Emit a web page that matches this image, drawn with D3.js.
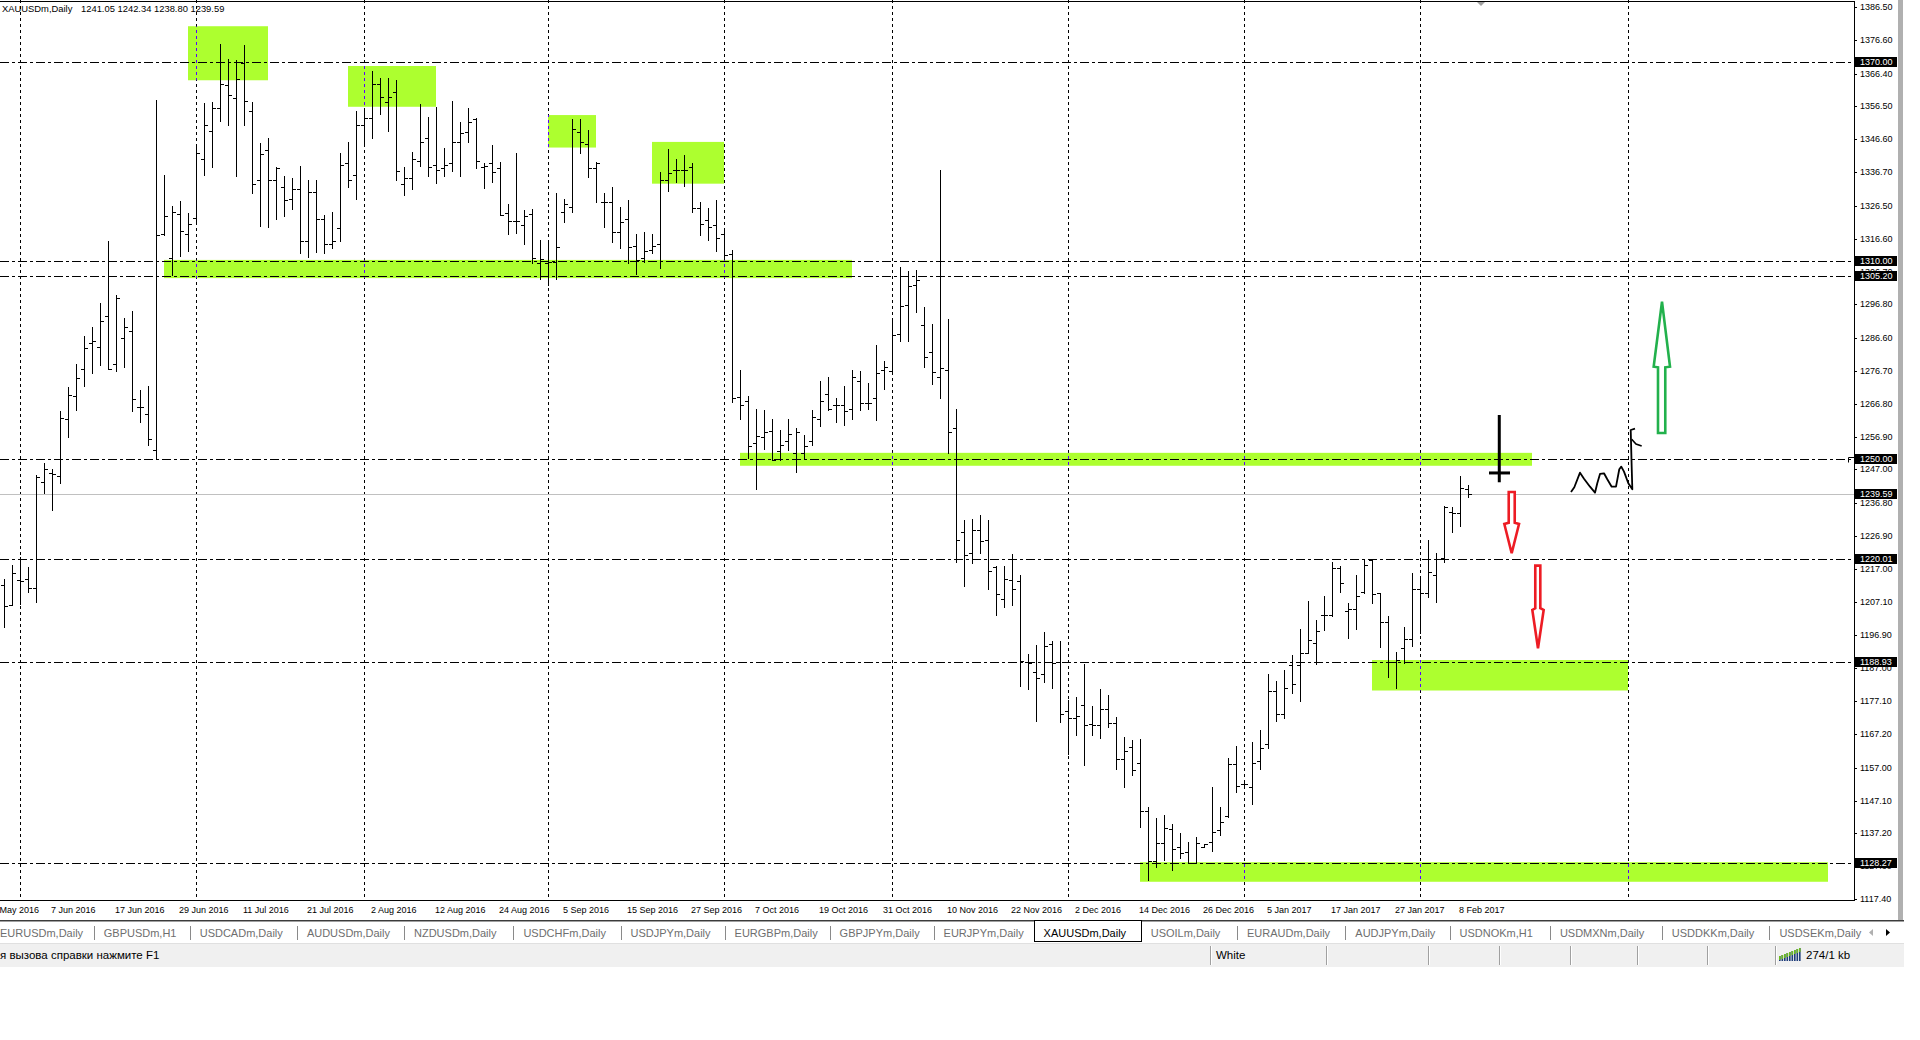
<!DOCTYPE html>
<html><head><meta charset="utf-8">
<script src="https://cdn.jsdelivr.net/npm/d3@7"></script>
<style>
html,body{margin:0;padding:0;background:#fff;overflow:hidden}
svg{display:block}
text{font-family:"Liberation Sans",Arial,sans-serif}
</style></head><body>
<svg id="c" width="1920" height="1040"></svg>
<script>
// ---------------- DATA ----------------
const symbolName = "XAUUSDm,Daily";
const lastQuote = ["1241.05", "1242.34", "1238.80", "1239.59"];

const open = [
1212,1206.0,1213.5,1213.8,1211.3,1243.3,1246,1245,1262.2,1269.2,
1277.2,1285,1283.9,1293.2,1278.8,1286.7,1288.9,1265.9,1263.6,1252.9,
1318,1310.8,1324,1318,1322.7,1340.6,1349,1356,1363.1,1359,
1369.5,1355.1,1334.4,1343.3,1334.4,1332.3,1328.5,1331.7,1316,1330.7,
1322.4,1315,1319.7,1339.4,1335.7,1351,1352.9,1363.4,1357.8,1360.9,
1333,1335,1340.1,1346.9,1338.8,1337.8,1339.5,1345.7,1348.7,1352.7,
1338.3,1339.3,1337.8,1324.5,1322,1320.7,1324.0,1309.2,1309.2,1309.5,
1324.6,1326.1,1348.7,1345.1,1337.8,1327.8,1327.6,1318.5,1322.5,1314.5,
1310.9,1313.2,1314.9,1334.3,1337.3,1337.3,1338.3,1326,1322.2,1320.7,
1317.9,1312.0,1268.9,1267.5,1254.9,1256.8,1258.5,1252.5,1255.5,1251.9,
1251.9,1255.5,1262.3,1269.7,1266.3,1266.3,1265.1,1273.6,1266.9,1268.6,
1277,1276.7,1288.0,1296.7,1302.6,1290.6,1282.3,1274.9,1277,1259.4,
1228.0,1221.8,1228.7,1225.7,1217.6,1207.8,1213.7,1213.4,1189,1186,
1185.2,1194.3,1189.0,1174.2,1172.1,1176,1170.2,1169.8,1174.6,1170.6,
1159.5,1163.4,1158.4,1143.8,1129.0,1134.4,1138.4,1133.0,1131.7,1128.4,
1133.2,1134.7,1138.2,1142.4,1158.1,1152.0,1151.1,1159.1,1164.2,1180.3,
1173.2,1188.0,1188,1191.7,1194.6,1203,1203.1,1217.2,1204.4,1204.8,
1210.1,1219.7,1209.8,1201.1,1189,1193,1195.8,1210.8,1209.8,1215.2,
1220.2,1234.3,1233.8,1241.05];
const high = [
1213.8,1218.3,1220.5,1217.7,1245.2,1248.9,1247.0,1264.6,1272.0,1278.7,
1287.3,1290.1,1297.1,1315.9,1299.7,1292.6,1294.7,1271.0,1272.2,1358.4,
1335.7,1326.4,1328.0,1324.5,1344.9,1357.6,1357.8,1375.3,1370.8,1370.5,
1375.1,1357.8,1345.5,1347.1,1338.1,1335.4,1335.0,1338.5,1334.2,1334.2,
1323.6,1324.6,1342.4,1345.8,1355.1,1356,1367.1,1365.2,1365.2,1364.6,
1338.1,1342.8,1357.2,1353.4,1356.4,1343.9,1358.1,1351.7,1355.9,1352.9,
1339.3,1344.9,1339.8,1327.1,1342.4,1325.3,1325.5,1316.2,1315.7,1330.3,
1328.5,1352.7,1352.7,1349.4,1339.6,1330.3,1332.1,1326.3,1328.3,1318.0,
1318.5,1318.0,1336.8,1343.6,1340.5,1342.0,1339.3,1327.6,1325.8,1328.3,
1319.6,1313.1,1277.1,1269.2,1265.3,1264.9,1262.1,1258.8,1262.3,1259.5,
1257.4,1264.9,1273.6,1274.9,1268.4,1272.1,1277.1,1276.7,1273.2,1284.6,
1279.7,1292.4,1308.1,1306.8,1307.2,1296.1,1290.9,1337.4,1292.4,1265.3,
1231.7,1232.0,1233.3,1231.7,1217.8,1217.8,1221.5,1215.2,1191.4,1194.0,
1198.0,1195.3,1195.3,1177.3,1178.3,1188.2,1175.7,1180.7,1178.9,1172.4,
1166.2,1165.4,1165.6,1145.1,1141.7,1142.7,1140.0,1137.4,1134.7,1136.2,
1134.0,1151.3,1145.1,1159.8,1163.6,1152.4,1164.9,1168.4,1185.3,1183.3,
1186.5,1191.0,1198.8,1207.4,1201.6,1208.8,1219.0,1217.9,1206.8,1215.2,
1219.7,1220.0,1209.8,1202.8,1192.0,1199.6,1215.6,1214.4,1225.7,1221.7,
1236.0,1235.6,1245.0,1242.34];
const low = [
1199.6,1206.0,1206.4,1210.1,1207.0,1239.9,1234.9,1242.9,1256.9,1264.9,
1272.3,1276.2,1278.4,1277.2,1276.6,1278.0,1264.5,1261.2,1254.4,1250.1,
1317.6,1305.5,1311.3,1312.9,1320.9,1335.9,1338.1,1352,1350.8,1335.4,
1350.8,1330.4,1320.3,1320.0,1322.4,1323.4,1325.6,1312.3,1311.0,1312.5,
1312.3,1313.7,1316.0,1332.3,1328.5,1345,1347.1,1354.1,1349.0,1334.4,
1329.9,1331.7,1338.5,1335.6,1333.3,1335.6,1337.1,1335.6,1345.9,1337.8,
1331.8,1333.8,1323.8,1317.9,1318.2,1314.9,1309.2,1304.5,1302.6,1304.5,
1321.7,1324.8,1342.6,1335.3,1327.8,1320.2,1315.7,1313.7,1309.2,1306.1,
1309.7,1312.2,1307.7,1331.1,1333.8,1332.6,1324.6,1317.7,1316.2,1313.0,
1310.4,1267.3,1262.1,1250.3,1241.1,1253.2,1249.7,1249.9,1252.9,1246.1,
1250.3,1254.5,1260.1,1264.9,1261.2,1260.5,1262.1,1264.9,1265.1,1261.8,
1271.2,1276.2,1285.6,1285.6,1294.5,1278.0,1272.8,1268.4,1251.9,1219.2,
1211.7,1218.9,1221.8,1211.0,1203.2,1205.6,1206.1,1181.6,1180.7,1171.2,
1183.0,1181.2,1170.7,1161.1,1166.8,1157.7,1166.8,1165.9,1169.4,1156.5,
1151.3,1154.8,1139.2,1123.0,1127.0,1129.2,1126.0,1129.7,1128.2,1128.4,
1133.0,1132.0,1136.7,1142.0,1149.8,1151.6,1146.1,1156.5,1162.9,1171.2,
1171.9,1179.4,1177.2,1191.5,1188.2,1198.6,1202.8,1210.1,1196.0,1198.8,
1209.8,1206.8,1193.5,1184.5,1181.0,1188.5,1193.8,1197.6,1208.6,1207.1,
1219.2,1228.0,1229.9,1238.80];
const close = [
1205.8,1215.6,1213.2,1211.3,1244.6,1247.0,1245.5,1262.4,1269.4,1274.7,
1283.6,1285.8,1291.7,1277.4,1298.7,1290.1,1268.2,1265.9,1256.1,1317.6,
1323.3,1324.6,1318.8,1321.1,1342.4,1350.8,1356.0,1363.4,1360.0,1364.8,
1358,1333.1,1342.1,1334.4,1338.0,1328.3,1331.7,1316.0,1330.7,1322.4,
1315.0,1316.0,1338.7,1334.4,1350.8,1353,1363.4,1359.3,1359.3,1337.1,
1334.8,1340.6,1345.9,1338.3,1337.3,1338.8,1345.7,1348.4,1351.7,1340.0,
1338.6,1336.8,1323.8,1322.0,1322.0,1323.4,1310.7,1310.4,1309.7,1314.0,
1327.1,1349.7,1345.9,1337.8,1339.5,1327.6,1318.5,1321.7,1314.2,1310.2,
1313.0,1314.5,1334.3,1336.3,1337.3,1337.3,1325.8,1321.0,1320.2,1316.7,
1311.8,1268.6,1266.3,1254.2,1257.1,1258.4,1249.9,1254.5,1257.8,1258.4,
1254.2,1262.7,1267.6,1265.3,1266.3,1264.7,1274.9,1266.9,1266.9,1276.2,
1278.0,1287.6,1296.3,1302.4,1304.2,1281.0,1276.5,1277.5,1258.4,1225.7,
1221.2,1228.7,1225.4,1216.3,1209.5,1213.9,1211.0,1189.1,1188.5,1184.2,
1193.8,1188.5,1173.1,1172.1,1172.5,1169.8,1169.8,1174.6,1170.6,1159.5,
1162.0,1156.3,1143.8,1129.0,1134.2,1138.7,1132.4,1131.2,1128.4,1134.2,
1134.0,1137.7,1140.5,1158.0,1151.5,1152.1,1158.4,1162.9,1180.2,1173.2,
1181.0,1182.3,1191.7,1195.6,1198.4,1203.1,1217.2,1212.8,1204.8,1208.8,
1218.2,1209.4,1201.1,1189.0,1189.5,1195.8,1210.8,1209.8,1216.2,1219.9,
1235.6,1233.8,1241.3,1239.59];

const priceTicks = ["1386.50","1376.60","1366.40","1356.50","1346.60","1336.70","1326.50","1316.60","1306.70","1296.80","1286.60","1276.70","1266.80","1256.90","1247.00","1236.80","1226.90","1217.00","1207.10","1196.90","1187.00","1177.10","1167.20","1157.00","1147.10","1137.20","1127.30","1117.40"];
const dateTicks = ["26 May 2016","7 Jun 2016","17 Jun 2016","29 Jun 2016","11 Jul 2016","21 Jul 2016","2 Aug 2016","12 Aug 2016","24 Aug 2016","5 Sep 2016","15 Sep 2016","27 Sep 2016","7 Oct 2016","19 Oct 2016","31 Oct 2016","10 Nov 2016","22 Nov 2016","2 Dec 2016","14 Dec 2016","26 Dec 2016","5 Jan 2017","17 Jan 2017","27 Jan 2017","8 Feb 2017"];

const levelPrices = [1370.00, 1310.00, 1305.20, 1250.00, 1220.01, 1188.93, 1128.27];
const bidPrice = 1239.59;

// zones: [first bar, last bar, low price, high price]
const zones = [
 [23, 33, 1364.4, 1380.7],
 [43, 54, 1356.4, 1368.7],
 [68, 74, 1344.1, 1353.9],
 [81, 90, 1333.2, 1345.8],
 [20, 106, 1304.7, 1310.2],
 [92, 191, 1248.1, 1252.0],
 [171, 203, 1180.3, 1189.5],
 [142, 228, 1122.6, 1128.5]
];
// hand-drawn annotations, in [bar, price]
const redArrowA = [[188.09,1240.19],[188.84,1240.19],[188.84,1230.93],[189.38,1230.54],[188.46,1221.70],[187.54,1230.54],[188.09,1230.93]];
const redArrowB = [[191.41,1217.96],[192.04,1217.96],[192.04,1205.11],[192.46,1204.60],[191.75,1193.04],[191.04,1204.60],[191.41,1205.11]];
const greenArrow = [[206.75,1257.99],[207.66,1257.99],[207.66,1277.81],[208.25,1277.99],[207.25,1297.60],[206.21,1277.99],[206.75,1277.81]];
const crossV = [[186.91,1263.42],[186.91,1243.12]];
const crossH = [[185.625,1245.93],[188.25,1245.93]];
const squiggle = [[195.875,1240.19],[196.29,1241.61],[197.0,1246.01],[197.5,1244.2],[198.25,1241.79],[198.875,1239.98],[199.16,1242.82],[199.5,1245.62],[200.0,1245.83],[200.41,1244.02],[200.96,1241.79],[201.5,1241.79],[201.91,1247.04],[202.16,1247.83],[202.5,1246.32],[203.04,1242.82],[203.54,1241.01],[203.46,1247.83],[203.34,1258.89],[203.875,1259.29]];
const squiggleFlag = [[203.46,1256.09],[204.0,1254.67],[204.71,1254.07]];

const tabNames = ["EURUSDm,Daily","GBPUSDm,H1","USDCADm,Daily","AUDUSDm,Daily","NZDUSDm,Daily","USDCHFm,Daily","USDJPYm,Daily","EURGBPm,Daily","GBPJPYm,Daily","EURJPYm,Daily","XAUUSDm,Daily","USOILm,Daily","EURAUDm,Daily","AUDJPYm,Daily","USDNOKm,H1","USDMXNm,Daily","USDDKKm,Daily","USDSEKm,Daily"];
const statusText = "я вызова справки нажмите F1";
const statusStyle = "White";
const statusTraffic = "274/1 kb";

// ---------------- LAYOUT ----------------
const svg = d3.select("#c");
const plotW = 1854, plotB = 900;
const x = d3.scaleLinear().domain([-0.5, 231.25]).range([0, plotW]);
const y = d3.scaleLinear().domain([1117.4, 1386.5]).range([899, 7]);
const cr = v => Math.round(v) + 0.5;

// dates: trading weekdays up to last bar, calendar days in the future area
const dates = [];
{ let d = new Date(2016, 4, 26);
  for (let i = -2; i <= 235; i++) {
    dates.push(new Date(d));
    if (i < open.length - 1) { do { d.setDate(d.getDate() + 1); } while (d.getDay() === 0 || d.getDay() === 6); }
    else d.setDate(d.getDate() + 1);
  } }
const dateAt = i => dates[i + 2];
const fmt = d3.timeFormat("%-d %b %Y");

svg.append("rect").attr("width", 1920).attr("height", 1040).attr("fill", "#fff");

const defs = svg.append("defs");
defs.append("clipPath").attr("id", "plotclip").append("rect").attr("x", 0).attr("y", 0).attr("width", plotW).attr("height", plotB);
const plot = svg.append("g").attr("clip-path", "url(#plotclip)");

// zones
plot.append("g").selectAll("rect").data(zones).join("rect")
  .attr("x", d => x(d[0])).attr("width", d => x(d[1]) - x(d[0]))
  .attr("y", d => y(d[3])).attr("height", d => y(d[2]) - y(d[3]))
  .attr("fill", "#adff2f");

// vertical month grid
const gridIdx = d3.range(0, 232).filter(i => dateAt(i).getMonth() !== dateAt(i - 1).getMonth());
plot.append("g").selectAll("line").data(gridIdx).join("line")
  .attr("x1", d => cr(x(d))).attr("x2", d => cr(x(d))).attr("y1", 0).attr("y2", plotB)
  .attr("stroke", "#000").attr("stroke-dasharray", "3,3");
zones.forEach((z, k) => {
  defs.append("clipPath").attr("id", "zc" + k).append("rect")
    .attr("x", x(z[0])).attr("width", x(z[1]) - x(z[0])).attr("y", y(z[3])).attr("height", y(z[2]) - y(z[3]));
  plot.append("g").attr("clip-path", `url(#zc${k})`).selectAll("line").data(gridIdx).join("line")
    .attr("x1", d => cr(x(d))).attr("x2", d => cr(x(d))).attr("y1", 0).attr("y2", plotB)
    .attr("stroke", "#5a00ff").attr("stroke-dasharray", "3,3");
});

// bid line
plot.append("line").attr("x1", 0).attr("x2", plotW).attr("y1", cr(y(bidPrice))).attr("y2", cr(y(bidPrice)))
  .attr("stroke", "#c0c0c0");

// horizontal levels
plot.append("g").selectAll("line").data(levelPrices).join("line")
  .attr("x1", 0).attr("x2", plotW).attr("y1", d => cr(y(d))).attr("y2", d => cr(y(d)))
  .attr("stroke", "#000").attr("stroke-dasharray", "9,3,3,3");

// OHLC bars
const bars = plot.append("g").attr("stroke", "#000").attr("stroke-width", 1);
open.forEach((o, i) => {
  const bx = Math.round(x(i)) + 0.5;
  const yh = Math.round(y(high[i])), yl = Math.round(y(low[i]));
  bars.append("line").attr("x1", bx).attr("x2", bx).attr("y1", yh).attr("y2", yl + 1);
  bars.append("line").attr("x1", bx - 3.5).attr("x2", bx).attr("y1", cr(y(o))).attr("y2", cr(y(o)));
  bars.append("line").attr("x1", bx).attr("x2", bx + 3.5).attr("y1", cr(y(close[i]))).attr("y2", cr(y(close[i])));
});

// annotations
const ln = d3.line().x(d => x(d[0])).y(d => y(d[1]));
const ann = svg.append("g");
ann.append("path").attr("d", ln(redArrowA) + "Z").attr("fill", "#fff").attr("stroke", "#ed1c24").attr("stroke-width", 2.6).attr("stroke-linejoin", "miter");
ann.append("path").attr("d", ln(redArrowB) + "Z").attr("fill", "#fff").attr("stroke", "#ed1c24").attr("stroke-width", 2.6);
ann.append("path").attr("d", ln(greenArrow) + "Z").attr("fill", "#fff").attr("stroke", "#22b14c").attr("stroke-width", 2.6);
ann.append("path").attr("d", ln(crossV)).attr("stroke", "#000").attr("stroke-width", 3);
ann.append("path").attr("d", ln(crossH)).attr("stroke", "#000").attr("stroke-width", 3);
ann.append("path").attr("d", ln(squiggle)).attr("fill", "none").attr("stroke", "#000").attr("stroke-width", 1.8).attr("stroke-linejoin", "round");
ann.append("path").attr("d", ln(squiggleFlag)).attr("fill", "none").attr("stroke", "#000").attr("stroke-width", 1.6);

// frame
svg.append("line").attr("x1", 0).attr("x2", plotW + 1).attr("y1", 1.5).attr("y2", 1.5).attr("stroke", "#000");
svg.append("line").attr("x1", plotW + 0.5).attr("x2", plotW + 0.5).attr("y1", 1).attr("y2", plotB + 1).attr("stroke", "#000");
svg.append("line").attr("x1", 0).attr("x2", plotW + 1).attr("y1", plotB + 0.5).attr("y2", plotB + 0.5).attr("stroke", "#000");
// chart shift marker
svg.append("path").attr("d", "M1477,2L1485,2L1481,6Z").attr("fill", "#a0a0a0");
// small marker on 1250 level near the axis
svg.append("path").attr("d", `M${plotW - 5.5},${cr(y(1250)) + 3}V${cr(y(1250)) - 2}H${plotW}`).attr("fill", "none").attr("stroke", "#000");

// right price scale
const ax = svg.append("g").attr("font-size", 9);
priceTicks.forEach(t => {
  const v = +t, yy = y(v);
  ax.append("line").attr("x1", plotW + 1).attr("x2", plotW + 3).attr("y1", cr(yy)).attr("y2", cr(yy)).attr("stroke", "#000");
  ax.append("text").attr("x", 1860).attr("y", Math.round(yy) + 3.3).text(t).attr("fill", "#000");
});
[...levelPrices, bidPrice].forEach(v => {
  const yy = Math.round(y(v));
  ax.append("rect").attr("x", plotW + 1).attr("y", yy - 5).attr("width", 42).attr("height", 10).attr("fill", "#000");
  ax.append("text").attr("x", 1860).attr("y", yy + 3.3).text(v.toFixed(2)).attr("fill", "#fff");
});
// right gray strip
svg.append("rect").attr("x", 1898).attr("y", 0).attr("width", 5).attr("height", 921).attr("fill", "#b0b0b0");

// date axis
const dg = svg.append("g").attr("font-size", 9);
dateTicks.forEach(lbl => {
  let idx = -99;
  for (let i = -2; i < 232; i++) if (fmt(dateAt(i)) === lbl) { idx = i; break; }
  if (idx < -2) return;
  dg.append("text").attr("x", Math.round(x(idx)) - 1).attr("y", 913).text(lbl).attr("fill", "#000");
});

// title
svg.append("text").attr("x", 2).attr("y", 11.5).attr("font-size", 9.4).text(symbolName).attr("fill", "#000");
svg.append("text").attr("x", 81).attr("y", 11.5).attr("font-size", 9.4).text(lastQuote.join(" ")).attr("fill", "#000");

// tab bar
const tabEdges = [-10, 93.75, 189.7, 296.9, 404, 513.4, 620.5, 724.6, 829.6, 933.6, 1033.6, 1140.7, 1237, 1345.3, 1449.5, 1549.9, 1661.8, 1769.4];
const activeTab = tabNames.indexOf(symbolName);
svg.append("rect").attr("x", 0).attr("y", 921).attr("width", 1904).attr("height", 22).attr("fill", "#fff");
svg.append("rect").attr("x", 0).attr("y", 943).attr("width", 1904).attr("height", 24).attr("fill", "#f0f0f0");
svg.append("line").attr("x1", 0).attr("x2", 1904).attr("y1", 920.5).attr("y2", 920.5).attr("stroke", "#3c3c3c");
svg.append("line").attr("x1", 0).attr("x2", 1904).attr("y1", 921.5).attr("y2", 921.5).attr("stroke", "#a0a0a0");
const tb = svg.append("g").attr("font-size", 11);
tabNames.forEach((n, k) => {
  const ex = tabEdges[k];
  if (k === activeTab) {
    tb.append("rect").attr("x", Math.round(ex) + 0.5).attr("y", 920.5).attr("width", Math.round(tabEdges[k + 1] - ex)).attr("height", 21).attr("fill", "#fff").attr("stroke", "#000");
  } else if (k > 0 && k !== activeTab + 1) {
    tb.append("line").attr("x1", cr(ex)).attr("x2", cr(ex)).attr("y1", 926).attr("y2", 940).attr("stroke", "#8a8a8a");
  }
  tb.append("text").attr("x", ex + 10).attr("y", 936.5).text(n).attr("fill", k === activeTab ? "#000" : "#6e6e6e");
});
tb.append("path").attr("d", "M1873,929L1869,932.5L1873,936Z").attr("fill", "#b0b0b0");
tb.append("path").attr("d", "M1886,929L1890,932.5L1886,936Z").attr("fill", "#000");

// status bar
svg.append("line").attr("x1", 0).attr("x2", 1904).attr("y1", 943.5).attr("y2", 943.5).attr("stroke", "#e0e0e0");
const sb = svg.append("g").attr("font-size", 11.5);
sb.append("text").attr("x", 0).attr("y", 959).text(statusText).attr("fill", "#000");
[1210, 1326, 1428, 1499, 1570, 1637, 1707, 1774.5].forEach(sx => {
  sb.append("line").attr("x1", cr(sx)).attr("x2", cr(sx)).attr("y1", 946).attr("y2", 965).attr("stroke", "#a0a0a0");
  sb.append("line").attr("x1", cr(sx) + 1).attr("x2", cr(sx) + 1).attr("y1", 946).attr("y2", 965).attr("stroke", "#fff");
});
sb.append("text").attr("x", 1216).attr("y", 959).text(statusStyle).attr("fill", "#000");
d3.range(9).forEach(k => {
  const h = 5 + k;
  sb.append("rect").attr("x", 1779 + k * 2.5).attr("y", 961 - h).attr("width", 1.6).attr("height", h).attr("fill", "#1f3d7a");
  sb.append("rect").attr("x", 1779 + k * 2.5).attr("y", 961 - h).attr("width", 1.6).attr("height", Math.min(4, h)).attr("fill", "#6cbb1f");
});
sb.append("text").attr("x", 1806).attr("y", 959).text(statusTraffic).attr("fill", "#000");
</script>
</body></html>
